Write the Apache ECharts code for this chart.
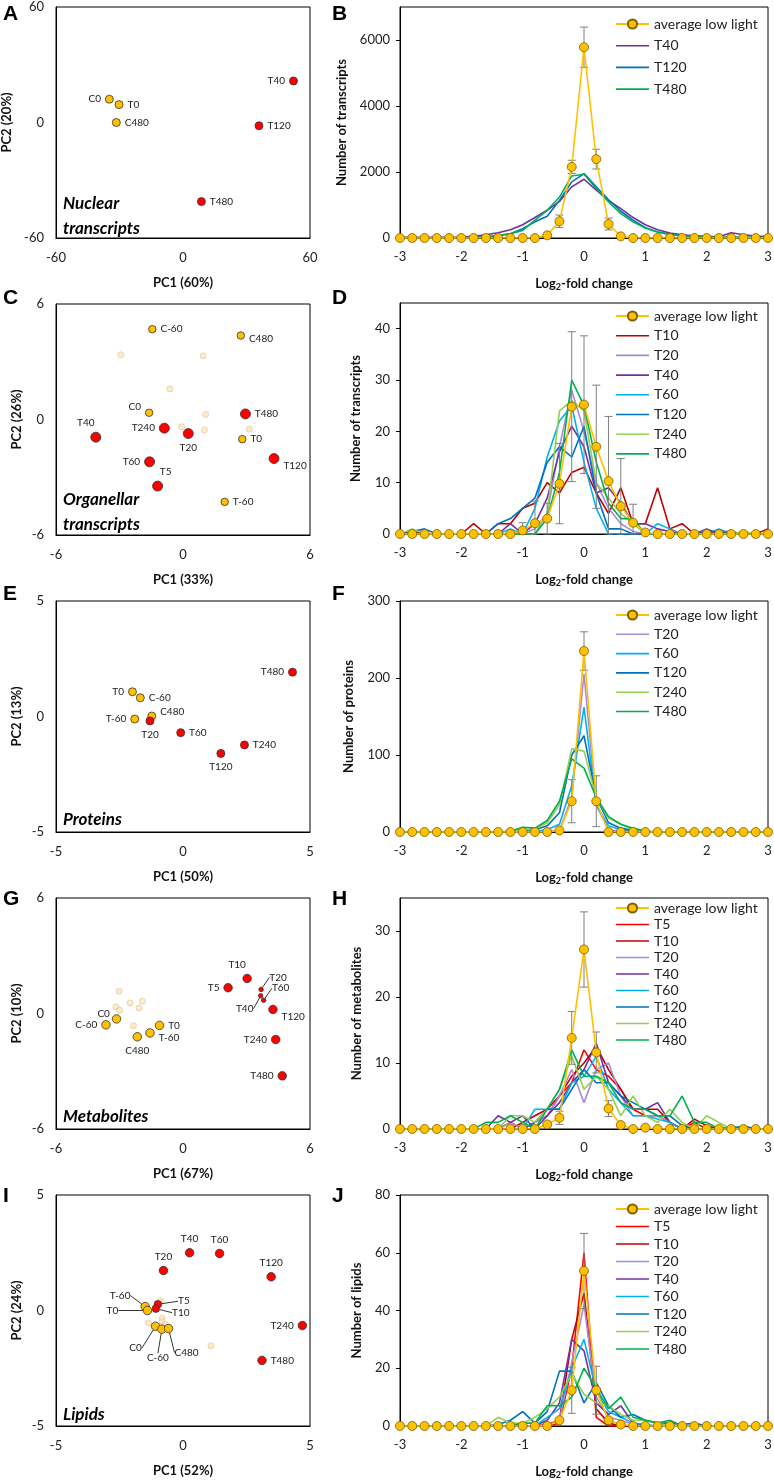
<!DOCTYPE html>
<html>
<head>
<meta charset="utf-8">
<script src="https://cdn.jsdelivr.net/npm/echarts@6/dist/echarts.min.js"></script>
<style>
  html, body { margin: 0; padding: 0; background: #fff; }
  #chart { width: 774px; height: 1480px; }
</style>
</head>
<body>
<div id="chart"></div>
<script>
const FONT = 'Lato, "Liberation Sans", sans-serif';

// ---------- PCA panels (left column) ----------
// A: nuclear transcripts
const aCtrlNames = ['C0', 'T0', 'C480'];
const aCtrlX = [-34.8, -30.2, -31.5];
const aCtrlY = [12.1, 9.3, 0];
const aHighNames = ['T40', 'T120', 'T480'];
const aHighX = [52.2, 35.9, 8.7];
const aHighY = [21.6, -1.7, -41.1];

// C: organellar transcripts
const cCtrlNames = ['C-60', 'C480', 'C0', 'T0', 'T-60'];
const cCtrlX = [-1.45, 2.73, -1.6, 2.8, 1.97];
const cCtrlY = [4.69, 4.36, 0.35, -1.02, -4.28];
const cHighNames = ['T40', 'T240', 'T20', 'T480', 'T120', 'T60', 'T5'];
const cHighX = [-4.12, -0.88, 0.25, 2.95, 4.3, -1.58, -1.2];
const cHighY = [-0.92, -0.45, -0.73, 0.29, -2.03, -2.2, -3.46];
const cPaleX = [-2.94, 0.95, -0.62, 1.07, -0.06, 1.01, 3.13];
const cPaleY = [3.36, 3.31, 1.59, 0.26, -0.38, -0.54, -0.5];

// E: proteins
const eCtrlNames = ['T0', 'C-60', 'C480', 'T-60'];
const eCtrlX = [-1.99, -1.68, -1.23, -1.9];
const eCtrlY = [1.07, 0.81, 0.02, -0.11];
const eHighNames = ['T20', 'T60', 'T120', 'T240', 'T480'];
const eHighX = [-1.3, -0.09, 1.49, 2.42, 4.31];
const eHighY = [-0.19, -0.7, -1.6, -1.23, 1.92];

// G: metabolites
const gCtrlNames = ['C0', 'C-60', 'C480', 'T-60', 'T0'];
const gCtrlX = [-3.14, -3.64, -2.16, -1.56, -1.11];
const gCtrlY = [-0.28, -0.59, -1.21, -1.01, -0.62];
const gHighNames = ['T10', 'T5', 'T120', 'T240', 'T480'];
const gHighX = [3.03, 2.13, 4.25, 4.38, 4.69];
const gHighY = [1.82, 1.34, 0.21, -1.35, -3.24];
const gSmallNames = ['T20', 'T40', 'T60'];
const gSmallX = [3.69, 3.67, 3.81];
const gSmallY = [1.25, 0.92, 0.69];
const gPaleX = [-3.02, -3.17, -3.0, -2.5, -1.92, -2.08, -2.34];
const gPaleY = [1.16, 0.35, 0.17, 0.55, 0.64, 0.29, -0.64];

// I: lipids
const iCtrlNames = ['T-60', 'T0', 'C0', 'C-60', 'C480'];
const iCtrlX = [-1.49, -1.4, -1.08, -0.83, -0.57];
const iCtrlY = [0.17, 0, -0.68, -0.81, -0.78];
const iHighNames = ['T40', 'T60', 'T20', 'T120', 'T240', 'T480'];
const iHighX = [0.26, 1.44, -0.77, 3.47, 4.7, 3.11];
const iHighY = [2.5, 2.47, 1.73, 1.46, -0.65, -2.16];
const iEarlyNames = ['T5', 'T10'];
const iEarlyX = [-0.99, -1.07];
const iEarlyY = [0.27, 0.08];
const iPaleX = [-0.89, -0.82, -0.82, -1.36, -0.7, 1.1];
const iPaleY = [0.41, -0.34, -0.48, -0.54, -0.6, -1.53];

// ---------- fold-change distributions (right column) ----------
const bins = [-3, -2.8, -2.6, -2.4, -2.2, -2, -1.8, -1.6, -1.4, -1.2, -1, -0.8, -0.6, -0.4, -0.2,
  0, 0.2, 0.4, 0.6, 0.8, 1, 1.2, 1.4, 1.6, 1.8, 2, 2.2, 2.4, 2.6, 2.8, 3];

const bAvg = [0,0,0,0,0, 0,0,0,0,0, 0,0,80,506,2155, 5780,2390,425,50,0, 0,0,0,0,0, 0,0,0,0,0, 0];
const bErr = [0,0,0,0,0, 0,0,0,0,0, 0,0,0,190,200, 610,300,180,0,0, 0,0,0,0,0, 0,0,0,0,0, 0];
const bT40 = [20,20,20,20,20, 30,50,100,160,250, 400,620,840,1110,1550, 1780,1450,1140,890,620, 400,250,150,100,70, 50,40,160,100,60, 50];
const bT120 = [0,0,0,0,0, 10,20,40,70,130, 280,490,660,1140,1700, 1950,1550,1160,810,540, 310,180,110,70,50, 30,20,20,20,10, 10];
const bT480 = [0,0,0,0,0, 0,10,30,80,130, 230,540,840,1240,1880, 1930,1500,1090,740,490, 300,180,110,70,50, 30,20,20,20,10, 10];

const dAvg = [0,0,0,0,0, 0,0,0,0,0, 0.7,2.1,3,9.8,24.8, 25.2,17,10.3,5.4,2.2, 0.3,0,0,0,0, 0,0,0,0,0, 0];
const dErr = [0,0,0,0,0, 0,0,0,0,0, 1.5,4.3,3,7.8,14.6, 13.4,12,12.6,9.3,3.6, 0,0,0,0,0, 0,0,0,0,0, 0];
const dT10 = [0,0.5,0,0,0, 0,2,0,2,2, 5,6,10,8,12, 13,8,4,9,2, 2,9,1,2,0, 0,0.5,0.5,0,0, 1];
const dT20 = [0,0,0,0,0, 0,0,0,0,0, 0,1,4,17,28, 20,10,5,2,0.5, 0,0,0,0,0, 0,0,0,0,0, 0];
const dT40 = [0,0,0,0,0, 0,0,0,0,2, 0,2,7,16,21, 17,8,9,6,2, 2,1,0.5,0,0, 1,0,0,0,0, 0];
const dT60 = [0,0,0,0,0, 0,0,0,0,1, 0,5,15,22,25, 14,5,0,0,0, 0,2,1,0,0, 0,1,0,0,0, 0];
const dT120 = [0,0.5,1,0,0, 0,0,0,2,3, 5,7,14,17,15, 21,8,1,1,0, 0,0,0,0,0, 0.5,0.5,0,0,0, 0];
const dT240 = [0,1,0,0,0, 0,0,0,0,0, 0,0,4,24,26, 24,10,7,4,2, 0,0,0,0,0, 0,0,0,0.5,0, 0];
const dT480 = [0,0,0,0,0, 0,0,0,0,0, 0,0,3,12,30, 25,14,6,3,3, 0,0,0,0,0, 0,0,0,0,0, 0];

const fAvg = [0,0,0,0,0, 0,0,0,0,0, 0,0,0,2,40, 235,40,0,0,0, 0,0,0,0,0, 0,0,0,0,0, 0];
const fErr = [0,0,0,0,0, 0,0,0,0,0, 0,0,0,0,28, 25,33,0,0,0, 0,0,0,0,0, 0,0,0,0,0, 0];
const fT20 = [0,0,0,0,0, 0,0,0,0,0, 0,0,1,2,45, 205,35,3,1,0, 0,0,0,0,0, 0,0,0,0,0, 0];
const fT60 = [0,0,0,0,0, 0,0,0,0,0, 0,1,3,10,60, 162,35,8,3,1, 0,0,0,0,0, 0,0,0,0,0, 0];
const fT120 = [0,0,0,0,0, 0,0,0,0,0, 1,3,8,25,100, 125,45,12,5,2, 1,0,0,0,0, 0,0,0,0,0, 0];
const fT240 = [0,0,0,0,0, 0,0,0,0,1, 2,4,12,35,108, 105,45,18,10,3, 1,0,0,0,0, 0,0,0,0,0, 0];
const fT480 = [0,0,0,0,0, 0,0,0,0,1, 6,5,15,40,95, 83,45,20,10,5, 1,0,0,0,0, 0,0,0,0,0, 0];

const hAvg = [0,0,0,0,0, 0,0,0,0,0, 0,0,0.7,1.7,13.8, 27.2,11.6,3.1,0.6,0, 0.2,0,0,0,0, 0,0,0,0,0, 0];
const hErr = [0,0,0,0,0, 0,0,0,0,0, 0,0,0,1,4, 5.7,3.1,1.2,0,0, 0,0,0,0,0, 0,0,0,0,0, 0];
const hT5 = [0,0,0,0,0, 0,0,0,0,1, 0,1,2,5,7, 12,9,8,6,3, 2,2,1,0,1, 0,0,0,0,0, 0];
const hT10 = [0,0,0,0,0, 0,0,0,0,0, 1,2,3,5,8, 10,12.5,9,6,3, 3,3,1,0,1.5, 0.5,0,0,0,0, 0];
const hT20 = [0,0,0,0,0, 0,0,0,0,1, 0,1,2,5,9, 4,9,10,5,2, 2,2,1,0,0, 0,0,0,0,0, 0];
const hT40 = [0,0,0,0,0, 0,0,0,2,1, 2,0,2,4,7, 9,13,7,5,3, 3,4,1,0,0, 0,0,0,0,0, 0];
const hT60 = [0,0,0,0,0, 0,0,0,0,0, 0,3,3,3,7, 8,11,6,4,2, 2,1.5,1,0,0, 0,0,0.5,0,0, 0];
const hT120 = [0,0,0,0,0, 0,0,0,0,0, 0,1,3,3,6, 9,7,7,5,4, 3,2,2,0.5,0, 0,0,0,0.5,0, 0];
const hT240 = [0,0,0,0,0, 0,0,0,0,2, 2,1,3,6,11, 6,8,6,2,5, 2,1,3,1,0, 2,1,0,0,0, 0];
const hT480 = [0,0,0,0,0, 0,0,1,1,2, 1,0,3,6,12, 8,8,7,4,3, 3,2,2,5,1, 1,0,0,0,0, 0];

const jAvg = [0,0,0,0,0, 0,0,0,0,0, 0,0,0,2,12.4, 53.7,12.4,2,0.5,0, 0,0,0,0,0, 0,0,0,0,0, 0];
const jErr = [0,0,0,0,0, 0,0,0,0,0, 0,0,0,0,8, 13,8.3,0,0,0, 0,0,0,0,0, 0,0,0,0,0, 0];
const jT5 = [0,0,0,0,0, 0,0,0,0,0, 0,0,0,1,20, 60,3,0,0,0, 0,0,0,0,0, 0,0,0,0,0, 0];
const jT10 = [0,0,0,0,0, 0,0,0,0,0, 0,0,0.5,2,30, 46,6,1,0,0, 0,0,0,0,0, 0,0,0,0,0, 0];
const jT20 = [0,0,0,0,0, 0,0,0,0,0, 0,0,0,2,22, 42,10,3,2,0.5, 0,0,0,0,0, 0,0,0,0,0, 0];
const jT40 = [0,0,0,0,0, 0,0,0,0,0, 0,0,2,8,30, 26,8,4,7,1, 0,0,0,0,0, 0,0,0,0,0, 0];
const jT60 = [0,0,0,0,0, 0,0,0,0,0, 0,0,3,6,20, 30,12,5,3,1, 0.5,0,0,0,0, 0,0,0,0,0, 0];
const jT120 = [0,0,0,0,0, 0,0,0,0.5,2, 5,1,5,19,19, 8,15,7,3,4, 2,1,1,0.5,1, 0,0,0,0,0, 0];
const jT240 = [0,0,0,0,0, 0,0,0,3,1, 1,3,6,10,18, 11,8,7,4,2, 2,1,0,0,0, 0,0,0,0,0, 0];
const jT480 = [0,0,0,0,0, 0,0,0,0,0, 1,1,7,7,10, 20,13,6,10,3, 2,1,2,0,0, 0,0,0,0,0, 0];

// axis texts
const pcRange = [60, 6, 5, 6, 5];
const pc1Names = ['PC1 (60%)', 'PC1 (33%)', 'PC1 (50%)', 'PC1 (67%)', 'PC1 (52%)'];
const pc2Names = ['PC2 (20%)', 'PC2 (26%)', 'PC2 (13%)', 'PC2 (10%)', 'PC2 (24%)'];
const countNames = ['Number of transcripts', 'Number of transcripts', 'Number of proteins', 'Number of metabolites', 'Number of lipids'];
const countMax = [7000, 45, 300, 35, 80];
const countStep = [2000, 10, 100, 10, 20];
const panelLetters = ['A', 'B', 'C', 'D', 'E', 'F', 'G', 'H', 'I', 'J'];
const omicsNames = ['Nuclear\ntranscripts', 'Organellar\ntranscripts', 'Proteins', 'Metabolites', 'Lipids'];

// colours
const COL = {
  avg: '#FFC000', T5: '#FF0000', T10: '#C00000', T20: '#A98BDB', T40: '#7030A0',
  T60: '#00B0F0', T120: '#0070C0', T240: '#92D050', T480: '#00B050'
};
const GOLD = '#FFC000', RED = '#FF0000', PALE = '#FCE6BC';
const LINE_ICON = 'path://M0,0H33V1.6H0Z';

// layout
const scatterTop = [7, 304, 601, 898, 1195];
const lineTop = [7, 303, 601, 898, 1195];
const pc2Gap = [43, 33, 33, 33, 33];
const countGap = [52, 38, 45, 37, 37];
const legendTop = [17, 309, 608, 901, 1202];
const legendGap = [7.7, 5.7, 5.3, 2.5, 3.5];
const letterTop = [4, 288, 584, 889, 1186];
const omicsTop = [191, 487, 807, 1104, 1402];

// label placement for the PCA points
const labelAt = [
  { C0: 'left', T0: 'right', C480: 'right', T40: 'left', T120: 'right', T480: 'right' },
  { 'C-60': 'right', C480: ['right', 0, 3], C0: ['left', 0, -6], T0: 'right', 'T-60': 'right',
    T40: ['top', -10, 0], T240: 'left', T20: 'bottom', T480: 'right', T120: ['right', 0, 7],
    T60: 'left', T5: ['top', 8, 0] },
  { T0: 'left', 'C-60': 'right', C480: ['right', 0, -4], 'T-60': 'left', T20: 'bottom',
    T60: 'right', T120: 'bottom', T240: 'right', T480: 'left' },
  { C0: ['left', 2, -5], 'C-60': 'left', C480: 'bottom', 'T-60': ['right', 0, 5], T0: 'right',
    T10: ['top', -10, 0], T5: 'left', T120: ['right', 0, 7], T240: 'left', T480: 'left' },
  { T40: 'top', T60: 'top', T20: 'top', T120: 'top', T240: 'left', T480: 'right' }
];
// labels joined to their point by a short line (offset of label centre, px)
const arrowAt = [
  {}, {}, {},
  { T20: [17, -12], T60: [17, -12], T40: [-16, 13] },
  { 'T-60': [-25, -11], T0: [-35, 0], T5: [26, -3], T10: [25, 4],
    C0: [-20, 22], 'C-60': [-4, 29], C480: [18, 24] }
];

const chart = echarts.init(document.getElementById('chart'), null, { renderer: 'canvas' });

const grids = [], xAxes = [], yAxes = [], series = [], legends = [], graphics = [];
const tickText = { fontFamily: FONT, fontSize: 13, color: '#222' };
const nameText = { fontFamily: FONT, fontSize: 13, fontWeight: 'bold', color: '#111' };
const plain = function (v) { return String(v); };

function scatterPoints(gi, panel, names, xs, ys, color, size, arrows) {
  const place = labelAt[panel];
  const moved = arrowAt[panel];
  series.push({
    type: 'scatter', xAxisIndex: gi, yAxisIndex: gi, z: 4,
    symbolSize: size,
    itemStyle: { color: color, borderColor: '#333', borderWidth: 0.8, opacity: 1 },
    label: {
      show: !!names, formatter: '{b}', fontFamily: FONT, fontSize: 10, color: '#222',
      position: arrows ? 'inside' : 'right', distance: 4
    },
    labelLine: arrows ? { show: true, length2: 0, lineStyle: { color: '#000', width: 0.8 } } : undefined,
    labelLayout: arrows ? function (p) {
      const d = moved[names[p.dataIndex]];
      return d ? { dx: d[0], dy: d[1] } : {};
    } : undefined,
    emphasis: { disabled: true },
    data: xs.map(function (x, i) {
      const item = { value: [x, ys[i]], name: names ? names[i] : '' };
      if (names && !arrows) {
        const at = place[names[i]];
        if (Array.isArray(at)) item.label = { position: at[0], offset: [at[1], at[2]] };
        else if (at) item.label = { position: at };
      }
      return item;
    })
  });
}

function paleSeries(gi, xs, ys, size) {
  series.push({
    type: 'scatter', xAxisIndex: gi, yAxisIndex: gi, z: 3, symbolSize: size,
    itemStyle: { color: PALE, borderColor: '#D8C49A', borderWidth: 0.8 },
    emphasis: { disabled: true },
    data: xs.map(function (x, i) { return [x, ys[i]]; })
  });
}

function lineSeries(gi, name, values) {
  series.push({
    type: 'line', name: name, xAxisIndex: gi, yAxisIndex: gi, z: 2,
    symbol: 'none', lineStyle: { color: COL[name], width: 1.6 }, itemStyle: { color: COL[name] },
    emphasis: { disabled: true },
    data: bins.map(function (b, i) { return [b, values[i]]; })
  });
}

function avgSeries(gi, values, errs) {
  series.push({
    type: 'custom', xAxisIndex: gi, yAxisIndex: gi, z: 5, silent: true,
    data: bins.map(function (b, i) { return [b, values[i], errs[i]]; }).filter(function (d) { return d[2] > 0; }),
    renderItem: function (params, api) {
      const x = api.value(0), m = api.value(1), e = api.value(2);
      const top = api.coord([x, m + e]);
      const bot = api.coord([x, Math.max(m - e, 0)]);
      const w = 4;
      const st = { stroke: '#7F7F7F', lineWidth: 1 };
      return {
        type: 'group', children: [
          { type: 'line', shape: { x1: top[0], y1: top[1], x2: bot[0], y2: bot[1] }, style: st },
          { type: 'line', shape: { x1: top[0] - w, y1: top[1], x2: top[0] + w, y2: top[1] }, style: st },
          { type: 'line', shape: { x1: bot[0] - w, y1: bot[1], x2: bot[0] + w, y2: bot[1] }, style: st }
        ]
      };
    }
  });
  series.push({
    type: 'line', name: 'average low light', xAxisIndex: gi, yAxisIndex: gi, z: 6,
    symbol: 'circle', symbolSize: 9, showSymbol: true,
    lineStyle: { color: COL.avg, width: 1.6 },
    itemStyle: { color: COL.avg, borderColor: '#7F6000', borderWidth: 0.8 },
    emphasis: { disabled: true },
    data: bins.map(function (b, i) { return [b, values[i]]; })
  });
}

for (let r = 0; r < 5; r++) {
  const gs = 2 * r, gl = 2 * r + 1;
  grids.push({ left: 56, top: scatterTop[r], width: 254, height: 231, show: true,
    borderColor: '#000', borderWidth: 1, backgroundColor: 'transparent', outerBoundsMode: 'none' });
  grids.push({ left: 400, top: lineTop[r], width: 368, height: 231, show: true,
    borderColor: '#000', borderWidth: 1, backgroundColor: 'transparent', outerBoundsMode: 'none' });

  const rg = pcRange[r];
  xAxes.push({
    gridIndex: gs, type: 'value', min: -rg, max: rg, interval: rg,
    name: pc1Names[r], nameLocation: 'middle', nameGap: 38, nameTextStyle: nameText,
    axisLine: { show: true, onZero: false, lineStyle: { color: '#000', width: 1 } },
    axisTick: { show: false }, splitLine: { show: false },
    axisLabel: Object.assign({ margin: 13, formatter: plain }, tickText)
  });
  yAxes.push({
    gridIndex: gs, type: 'value', min: -rg, max: rg, interval: rg,
    name: pc2Names[r], nameLocation: 'middle', nameGap: pc2Gap[r], nameTextStyle: nameText,
    axisLine: { show: true, onZero: false, lineStyle: { color: '#000', width: 1 } },
    axisTick: { show: false }, splitLine: { show: false },
    axisLabel: Object.assign({ margin: 12, formatter: plain }, tickText)
  });

  xAxes.push({
    gridIndex: gl, type: 'value', min: -3, max: 3, interval: 1,
    name: 'Log{s|2}-fold change', nameLocation: 'middle', nameGap: 38,
    nameTextStyle: Object.assign({ lineHeight: 16, rich: { s: { fontFamily: FONT, fontSize: 9, fontWeight: 'bold', lineHeight: 16, verticalAlign: 'bottom', color: '#111' } } }, nameText),
    axisLine: { show: true, onZero: false, lineStyle: { color: '#000', width: 1 } },
    axisTick: { show: false }, splitLine: { show: false },
    axisLabel: Object.assign({ margin: 12, formatter: plain }, tickText)
  });
  yAxes.push({
    gridIndex: gl, type: 'value', min: 0, max: countMax[r], interval: countStep[r],
    name: countNames[r], nameLocation: 'middle', nameGap: countGap[r], nameTextStyle: nameText,
    axisLine: { show: true, onZero: false, lineStyle: { color: '#000', width: 1 } },
    axisTick: { show: true, length: 4, lineStyle: { color: '#000' } }, splitLine: { show: false },
    axisLabel: Object.assign({ margin: 10, formatter: plain, showMaxLabel: countMax[r] % countStep[r] === 0 }, tickText)
  });

  graphics.push({ type: 'text', left: 3, top: letterTop[r], style: { text: panelLetters[gs], fontFamily: '"Liberation Sans", Arial, sans-serif', fontSize: 21, fontWeight: 'bold', fill: '#000' } });
  graphics.push({ type: 'text', left: 332, top: letterTop[r], style: { text: panelLetters[gl], fontFamily: '"Liberation Sans", Arial, sans-serif', fontSize: 21, fontWeight: 'bold', fill: '#000' } });
  graphics.push({ type: 'text', left: 63, top: omicsTop[r], style: { text: omicsNames[r], fontFamily: FONT, fontSize: 17, fontWeight: 'bold', fontStyle: 'italic', lineHeight: 25, fill: '#000' } });
}

// A
scatterPoints(0, 0, aCtrlNames, aCtrlX, aCtrlY, GOLD, 8);
scatterPoints(0, 0, aHighNames, aHighX, aHighY, RED, 8);
// C
paleSeries(2, cPaleX, cPaleY, 6);
scatterPoints(2, 1, cCtrlNames, cCtrlX, cCtrlY, GOLD, 7.5);
scatterPoints(2, 1, cHighNames, cHighX, cHighY, RED, 10);
// E
scatterPoints(4, 2, eCtrlNames, eCtrlX, eCtrlY, GOLD, 8);
scatterPoints(4, 2, eHighNames, eHighX, eHighY, RED, 8);
// G
paleSeries(6, gPaleX, gPaleY, 6);
scatterPoints(6, 3, gCtrlNames, gCtrlX, gCtrlY, GOLD, 8.5);
scatterPoints(6, 3, gHighNames, gHighX, gHighY, RED, 8.5);
scatterPoints(6, 3, gSmallNames, gSmallX, gSmallY, RED, 4.5, true);
// I
paleSeries(8, iPaleX, iPaleY, 6);
scatterPoints(8, 4, iEarlyNames, iEarlyX, iEarlyY, RED, 7.5, true);
scatterPoints(8, 4, iCtrlNames, iCtrlX, iCtrlY, GOLD, 8.5, true);
scatterPoints(8, 4, iHighNames, iHighX, iHighY, RED, 8.5);

// B
lineSeries(1, 'T40', bT40); lineSeries(1, 'T120', bT120); lineSeries(1, 'T480', bT480);
avgSeries(1, bAvg, bErr);
// D
lineSeries(3, 'T10', dT10); lineSeries(3, 'T20', dT20); lineSeries(3, 'T40', dT40);
lineSeries(3, 'T60', dT60); lineSeries(3, 'T120', dT120); lineSeries(3, 'T240', dT240);
lineSeries(3, 'T480', dT480);
avgSeries(3, dAvg, dErr);
// F
lineSeries(5, 'T20', fT20); lineSeries(5, 'T60', fT60); lineSeries(5, 'T120', fT120);
lineSeries(5, 'T240', fT240); lineSeries(5, 'T480', fT480);
avgSeries(5, fAvg, fErr);
// H
lineSeries(7, 'T5', hT5); lineSeries(7, 'T10', hT10); lineSeries(7, 'T20', hT20);
lineSeries(7, 'T40', hT40); lineSeries(7, 'T60', hT60); lineSeries(7, 'T120', hT120);
lineSeries(7, 'T240', hT240); lineSeries(7, 'T480', hT480);
avgSeries(7, hAvg, hErr);
// J
lineSeries(9, 'T5', jT5); lineSeries(9, 'T10', jT10); lineSeries(9, 'T20', jT20);
lineSeries(9, 'T40', jT40); lineSeries(9, 'T60', jT60); lineSeries(9, 'T120', jT120);
lineSeries(9, 'T240', jT240); lineSeries(9, 'T480', jT480);
avgSeries(9, jAvg, jErr);

const legendItems = [
  ['average low light', 'T40', 'T120', 'T480'],
  ['average low light', 'T10', 'T20', 'T40', 'T60', 'T120', 'T240', 'T480'],
  ['average low light', 'T20', 'T60', 'T120', 'T240', 'T480'],
  ['average low light', 'T5', 'T10', 'T20', 'T40', 'T60', 'T120', 'T240', 'T480'],
  ['average low light', 'T5', 'T10', 'T20', 'T40', 'T60', 'T120', 'T240', 'T480']
];
for (let r = 0; r < 5; r++) {
  legends.push({
    orient: 'vertical', left: 615, top: legendTop[r], itemWidth: 33, itemHeight: 11.5,
    itemGap: legendGap[r], selectedMode: false, padding: 0, symbolKeepAspect: true,
    textStyle: { fontFamily: FONT, fontSize: 14, color: '#222' },
    data: legendItems[r].map(function (n) {
      return n === 'average low light' ? n : { name: n, icon: LINE_ICON };
    })
  });
}

chart.setOption({
  animation: false,
  backgroundColor: '#fff',
  grid: grids,
  xAxis: xAxes,
  yAxis: yAxes,
  legend: legends,
  series: series,
  graphic: graphics
});
</script>
</body>
</html>
